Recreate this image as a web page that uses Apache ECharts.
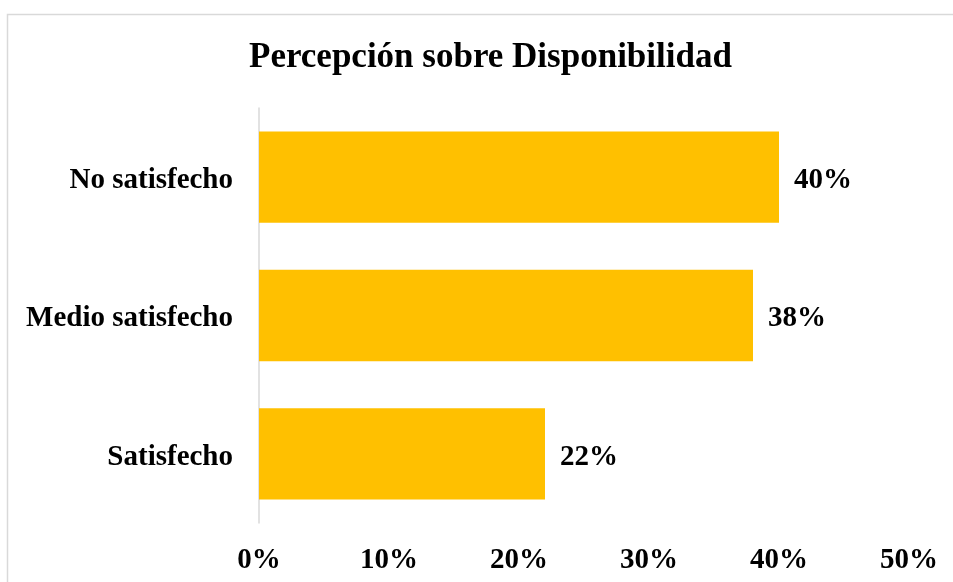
<!DOCTYPE html>
<html>
<head>
<meta charset="utf-8">
<script src="https://cdn.jsdelivr.net/npm/echarts@6/dist/echarts.min.js"></script>
<style>
  html, body { margin: 0; padding: 0; background: #fff; overflow: hidden; }
  #chart { width: 953px; height: 582px; }
</style>
</head>
<body>
<div id="chart"></div>
<script>
// datos
var categorias = ['Satisfecho', 'Medio satisfecho', 'No satisfecho']
var valores = [22, 38, 40]
var ticks = [0, 10, 20, 30, 40, 50]

var fuente = '"Liberation Serif", "Times New Roman", serif'
var myChart = echarts.init(document.getElementById('chart'))

// estilo de texto de las etiquetas (bajado unos px)
var estiloEtiqueta = {
  fontFamily: fuente,
  fontWeight: 'bold',
  fontSize: 29,
  color: '#000',
  padding: [7, 0, 0, 0]
}

var option = {
  animation: false,
  graphic: [{
    type: 'rect',
    silent: true,
    shape: { x: 7.5, y: 14.5, width: 2000, height: 2000 },
    style: { fill: 'none', stroke: '#d9d9d9', lineWidth: 1.5 }
  }],
  title: {
    text: 'Percepción sobre Disponibilidad',
    left: 244,
    top: 35,
    textStyle: {
      fontFamily: fuente,
      fontWeight: 'bold',
      fontSize: 35,
      color: '#000'
    }
  },
  grid: {
    left: 259,
    right: 44,
    top: 108,
    bottom: 59,
    containLabel: false
  },
  xAxis: {
    type: 'value',
    min: ticks[0],
    max: ticks[ticks.length - 1],
    interval: 10,
    axisLine: { show: false },
    axisTick: { show: false },
    splitLine: { show: false },
    axisLabel: {
      margin: 23,
      formatter: '{value}%',
      fontFamily: fuente,
      fontWeight: 'bold',
      fontSize: 29,
      color: '#000'
    }
  },
  yAxis: {
    type: 'category',
    data: categorias,
    axisLine: { show: true, lineStyle: { color: '#d9d9d9', width: 1.5 } },
    axisTick: { show: false },
    axisLabel: {
      margin: 26,
      formatter: '{a|{value}}',
      rich: { a: estiloEtiqueta }
    }
  },
  series: [{
    type: 'bar',
    data: valores,
    barCategoryGap: '34%',
    itemStyle: { color: '#FFC000' },
    label: {
      show: true,
      position: 'right',
      distance: 15,
      formatter: '{a|{c}%}',
      rich: { a: estiloEtiqueta }
    }
  }]
}
myChart.setOption(option)
</script>
</body>
</html>
